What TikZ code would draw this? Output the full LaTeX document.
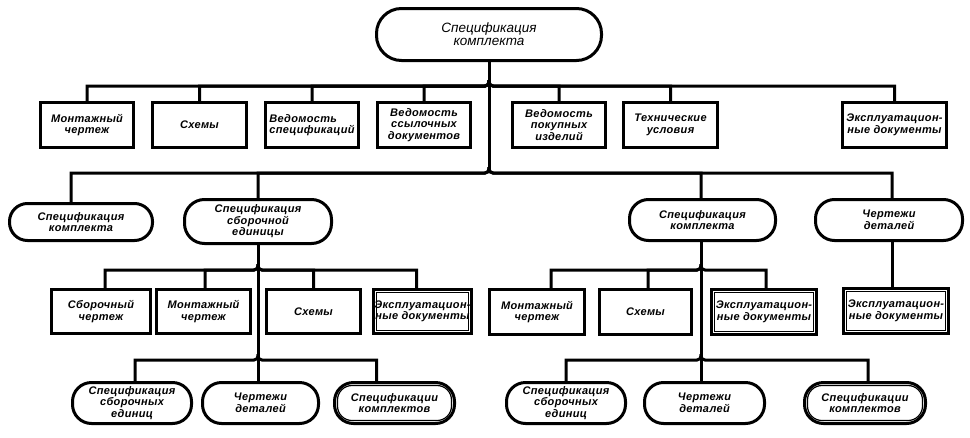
\documentclass[tikz,border=0pt]{standalone}
\usepackage{fontspec}
\setmainfont{Liberation Sans}
\newfontfamily\labelfont[LetterSpace=3]{Liberation Sans}
\begin{document}
\begin{tikzpicture}[x=1pt,y=-1pt,
  every node/.style={inner sep=0pt, align=center,
    font=\labelfont\bfseries\itshape\fontsize{11}{11.5}\selectfont},
  frame/.style={draw, line width=3pt, rectangle},
  pill/.style={draw, line width=3pt, rectangle, rounded corners=#1},
  pill/.default=19pt,
  link/.style={line width=3pt},
]
\useasboundingbox (0,0) rectangle (970,437);

% inner thin outline of a double-framed box / pill
\newcommand\innerrect[1]{\draw[line width=1.2pt]
  ([shift={(4.5pt,-4.5pt)}]#1.north west) rectangle ([shift={(-4.5pt,4.5pt)}]#1.south east);}
\newcommand\innerpill[2]{\draw[line width=1.2pt, rounded corners=#2]
  ([shift={(4.5pt,-4.5pt)}]#1.north west) rectangle ([shift={(-4.5pt,4.5pt)}]#1.south east);}
% drop from a child up to a bus, meeting the trunk with a small rounded bend
% #1 child attachment point, #2 junction, #3 side (-1 left, 1 right)
\newcommand\busto[3]{\draw[link] (#1) |- ([xshift=#3*6pt]#2)
  [rounded corners=4pt] -- (#2) -- ([yshift=6pt]#2);}

% ---------- root ----------
\node[pill=25pt, minimum width=225pt, minimum height=52pt,
  font=\itshape\fontsize{13.5}{13}\selectfont] (root) at (489,34.5) {Спецификация\\комплекта};

% ---------- first row of documents ----------
\node[frame, minimum width=93pt, minimum height=45pt] (m1) at (87,125) {Монтажный\\чертеж};
\node[frame, minimum width=94pt, minimum height=45pt] (m2) at (199.5,125) {Схемы};
\node[frame, minimum width=93pt, minimum height=45pt, align=left] (m3) at (312,125) {Ведомость\\спецификаций};
\node[frame, minimum width=93pt, minimum height=45pt] (m4) at (424,125) {Ведомость\\ссылочных\\документов};
\node[frame, minimum width=93pt, minimum height=45pt] (m5) at (559,125) {Ведомость\\покупных\\изделий};
\node[frame, minimum width=94pt, minimum height=45pt] (m6) at (670.5,125) {Технические\\условия};
\node[frame, minimum width=104pt, minimum height=45pt] (m7) at (894.5,125) {Эксплуатацион-\\ные документы};

% ---------- second row ----------
\node[pill=18pt, minimum width=143pt, minimum height=37pt] (s1) at (81,222) {Спецификация\\комплекта};
\node[pill=20pt, minimum width=147pt, minimum height=44pt] (s2) at (258,221.5) {Спецификация\\сборочной\\единицы};
\node[pill=19pt, minimum width=146pt, minimum height=41pt] (s3) at (702.5,220) {Спецификация\\комплекта};
\node[pill=19pt, minimum width=147pt, minimum height=41pt] (s4) at (889,220) {Чертежи\\деталей};

% ---------- third row ----------
\node[frame, minimum width=99pt, minimum height=44pt] (b1) at (101,311.5) {Сборочный\\чертеж};
\node[frame, minimum width=94pt, minimum height=44pt] (b2) at (203.5,311.5) {Монтажный\\чертеж};
\node[frame, minimum width=94pt, minimum height=44pt] (b3) at (313.5,311.5) {Схемы};
\node[frame, minimum width=98pt, minimum height=44pt] (b4) at (422.5,311.5) {Эксплуатацион-\\ные документы};
\innerrect{b4}

\node[frame, minimum width=95pt, minimum height=45pt] (c1) at (537,312) {Монтажный\\чертеж};
\node[frame, minimum width=92pt, minimum height=45pt] (c2) at (645.5,312) {Схемы};
\node[frame, minimum width=105pt, minimum height=45pt] (c3) at (764,312) {Эксплуатацион-\\ные документы};
\innerrect{c3}
\node[frame, minimum width=105pt, minimum height=45pt] (d1) at (896,311) {Эксплуатацион-\\ные документы};
\innerrect{d1}

% ---------- fourth row ----------
\node[pill=19pt, minimum width=119pt, minimum height=41pt] (e1) at (132,403) {Спецификация\\сборочных\\единиц};
\node[pill=19pt, minimum width=116pt, minimum height=41pt] (e2) at (260.5,403) {Чертежи\\деталей};
\node[pill=19pt, minimum width=120pt, minimum height=41pt] (e3) at (394.5,403) {Спецификации\\комплектов};
\innerpill{e3}{14.5pt}
\node[pill=19pt, minimum width=119pt, minimum height=41pt] (f1) at (566,403) {Спецификация\\сборочных\\единиц};
\node[pill=19pt, minimum width=120pt, minimum height=41pt] (f2) at (704.5,403) {Чертежи\\деталей};
\node[pill=19pt, minimum width=121pt, minimum height=41pt] (f3) at (865,403) {Спецификации\\комплектов};
\innerpill{f3}{14.5pt}

% ---------- junctions ----------
\coordinate (j1) at (489,86);
\coordinate (j2) at (489,173);
\coordinate (k1) at (258,270);
\coordinate (k2) at (258,360);
\coordinate (r1) at (701,270);
\coordinate (r2) at (701,360);
\coordinate (s4d) at ([xshift=3pt]s4.south);

% ---------- trunks ----------
\draw[link] (root.south) -- ([yshift=4pt]j2);
\draw[link] (s2.south) -- (k2 |- e2.north);
\draw[link] (s3.south -| r1) -- (r2 |- f2.north);
\draw[link] (s4d) -- (s4d |- d1.north);

% ---------- buses ----------
\busto{m1.north}{j1}{-1}
\busto{m2.north}{j1}{-1}
\busto{m3.north}{j1}{-1}
\busto{m4.north}{j1}{-1}
\busto{m5.north}{j1}{1}
\busto{m6.north}{j1}{1}
\busto{m7.north}{j1}{1}

\busto{[xshift=-10pt]s1.north}{j2}{-1}
\busto{s2.north}{j2}{-1}
\busto{s3.north -| r1}{j2}{1}
\busto{[xshift=3pt]s4.north}{j2}{1}

\busto{[xshift=4pt]b1.north}{k1}{-1}
\busto{[xshift=1.5pt]b2.north}{k1}{-1}
\busto{b3.north}{k1}{1}
\busto{[xshift=-6pt]b4.north}{k1}{1}

\busto{[xshift=14pt]c1.north}{r1}{-1}
\busto{[xshift=2.5pt]c2.north}{r1}{-1}
\busto{[xshift=2pt]c3.north}{r1}{1}

\busto{[xshift=3pt]e1.north}{k2}{-1}
\busto{[xshift=-18pt]e3.north}{k2}{1}

\busto{f1.north}{r2}{-1}
\busto{[xshift=3pt]f3.north}{r2}{1}
\end{tikzpicture}
\end{document}
